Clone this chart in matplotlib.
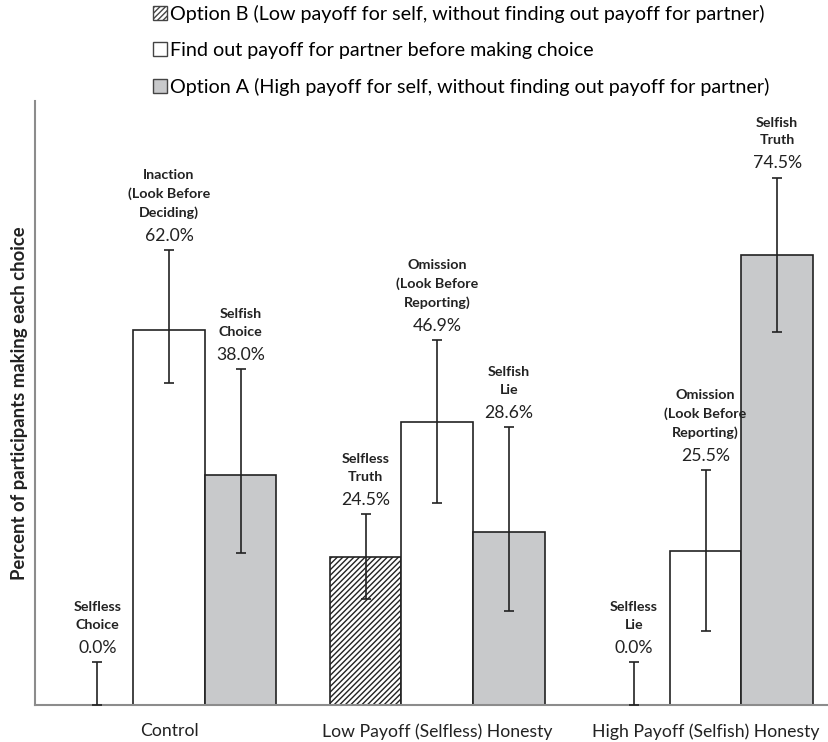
import numpy as np
import matplotlib.pyplot as plt
from matplotlib.patches import Patch

plt.rcParams['font.family'] = ['Lato', 'DejaVu Sans']
plt.rcParams['hatch.linewidth'] = 1.0

groups = ['Control', 'Low Payoff (Selfless) Honesty', 'High Payoff (Selfish) Honesty']
series = ['Option B (Low payoff for self, without finding out payoff for partner)',
          'Find out payoff for partner before making choice',
          'Option A (High payoff for self, without finding out payoff for partner)']

option_b = [0.0, 24.5, 0.0]
find_out = [62.0, 46.9, 25.5]
option_a = [38.0, 28.6, 74.5]

# upper / lower ends of the error bars
b_hi = [7.1, 31.6, 7.1]
b_lo = [0.0, 17.5, 0.0]
f_hi = [75.3, 60.4, 38.9]
f_lo = [53.3, 33.4, 12.3]
a_hi = [55.6, 46.0, 87.3]
a_lo = [25.2, 15.6, 61.8]

b_names = ['Selfless\nChoice', 'Selfless\nTruth', 'Selfless\nLie']
f_names = ['Inaction\n(Look Before\nDeciding)', 'Omission\n(Look Before\nReporting)',
           'Omission\n(Look Before\nReporting)']
a_names = ['Selfish\nChoice', 'Selfish\nLie', 'Selfish\nTruth']

fig = plt.figure(figsize=(8.29, 7.42), dpi=100)
ax = fig.add_axes([0.042, 0.05, 0.958, 0.814])

x = np.arange(len(groups))
w = 0.267
styles = [dict(color='white', edgecolor='#222222', hatch='//////'),
          dict(color='white', edgecolor='#222222'),
          dict(color='#c8c9cb', edgecolor='#222222')]
vals = [option_b, find_out, option_a]
his = [b_hi, f_hi, a_hi]
los = [b_lo, f_lo, a_lo]
names = [b_names, f_names, a_names]

for i in range(3):
    xs = x + (i - 1) * w
    v = np.array(vals[i])
    yerr = [v - np.array(los[i]), np.array(his[i]) - v]
    ax.bar(xs, v, w, linewidth=1.2, zorder=2, **styles[i])
    ax.errorbar(xs, v, yerr=yerr, fmt='none', ecolor='#222222', elinewidth=1.2,
                capsize=3.6, capthick=1.2, zorder=3)
    for j in range(3):
        ax.annotate(f'{v[j]:.1f}%', (xs[j], his[i][j]), xytext=(0, 4.5),
                    textcoords='offset points', ha='center', va='bottom',
                    fontsize=12.7, color='#222222')
        ax.annotate(names[i][j], (xs[j], his[i][j]), xytext=(0, 22.5),
                    textcoords='offset points', ha='center', va='bottom',
                    fontsize=10.3, fontweight='bold', color='#222222',
                    linespacing=1.58)

ax.set_xlim(-0.5, 2.46)
ax.set_ylim(0, 100)
ax.set_xticks(x)
ax.set_xticklabels(groups, fontsize=12.7, color='#222222')
ax.tick_params(axis='x', length=0, pad=13)
ax.set_yticks([])
for s in ['top', 'right']:
    ax.spines[s].set_visible(False)
for s in ['left', 'bottom']:
    ax.spines[s].set_color('#8c8c8c')
    ax.spines[s].set_linewidth(1.5)
ax.set_ylabel('Percent of participants making each choice', fontsize=13.3,
              fontweight='bold', color='#222222', labelpad=5)

handles = [Patch(facecolor=styles[i]['color'], edgecolor='#444444',
                 hatch=styles[i].get('hatch'), label=series[i]) for i in range(3)]
fig.legend(handles=handles, loc='upper left', bbox_to_anchor=(0.175, 1.004),
           frameon=False, fontsize=14.2, handlelength=0.71, handleheight=0.71,
           handletextpad=0.15, labelspacing=0.96, borderaxespad=0)

fig.savefig('out.png', dpi=100)
